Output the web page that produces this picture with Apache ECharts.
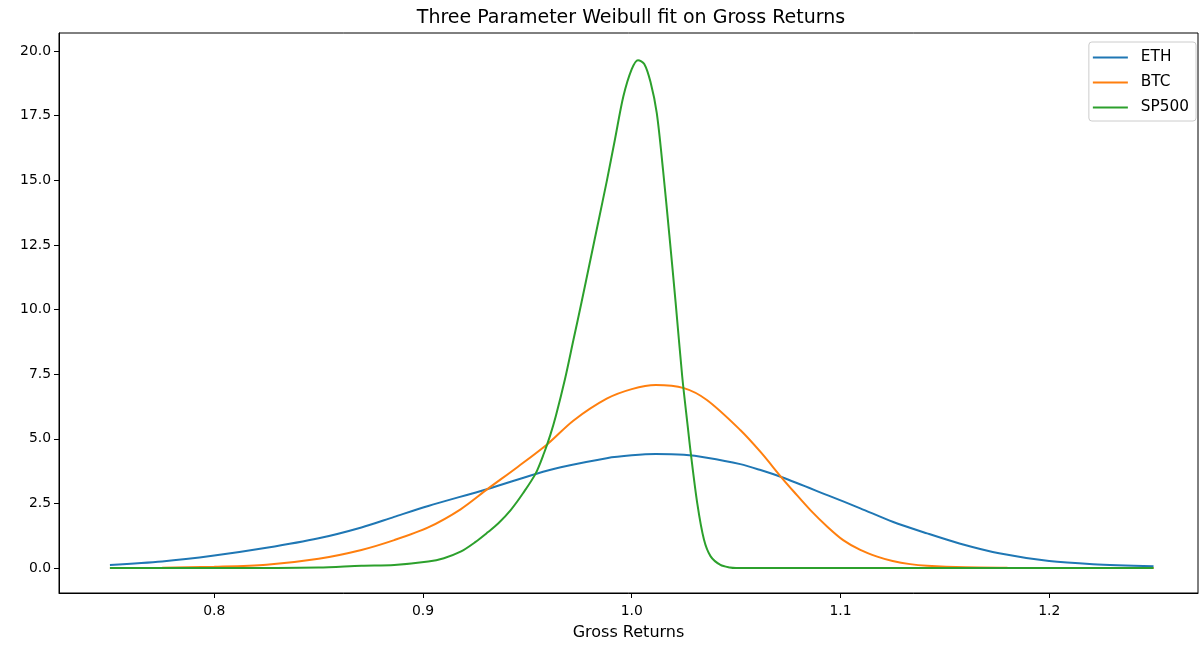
<!DOCTYPE html>
<html>
<head>
<meta charset="utf-8">
<script src="https://cdn.jsdelivr.net/npm/echarts@6/dist/echarts.min.js"></script>
<style>html,body{margin:0;padding:0;background:#fff;}#chart{width:1199px;height:646px;}</style>
</head>
<body>
<div id="chart"></div>
<script>
// ---- data ----
const seriesNames = ['ETH', 'BTC', 'SP500'];
const xTicks = [0.8, 0.9, 1.0, 1.1, 1.2];
const yTicks = [0, 2.5, 5, 7.5, 10, 12.5, 15, 17.5, 20];

const ethX = [0.75, 0.775, 0.8, 0.825, 0.85, 0.8705, 0.8862, 0.9025, 0.931, 0.954, 0.966, 0.988, 1.0, 1.0115, 1.025, 1.036, 1.052, 1.0617, 1.072, 1.0937, 1.1095, 1.125, 1.1415, 1.157, 1.176, 1.2, 1.221, 1.25];
const ethY = [0.12, 0.25, 0.48, 0.78, 1.15, 1.57, 1.98, 2.40, 3.06, 3.64, 3.90, 4.25, 4.36, 4.41, 4.38, 4.27, 4.02, 3.79, 3.51, 2.82, 2.31, 1.79, 1.34, 0.95, 0.57, 0.27, 0.15, 0.07];

const btcX = [0.75, 0.775, 0.8, 0.825, 0.85, 0.8705, 0.8862, 0.9025, 0.918, 0.931, 0.9455, 0.960, 0.972, 0.988, 1.0, 1.0115, 1.025, 1.036, 1.052, 1.0617, 1.072, 1.0777, 1.0856, 1.0937, 1.1013, 1.1095, 1.1176, 1.125, 1.1334, 1.1415, 1.16, 1.18, 1.2, 1.25];
const btcY = [0.0, 0.01, 0.05, 0.13, 0.36, 0.70, 1.08, 1.57, 2.27, 3.06, 3.92, 4.82, 5.70, 6.55, 6.92, 7.08, 6.96, 6.50, 5.34, 4.49, 3.48, 2.95, 2.24, 1.60, 1.08, 0.70, 0.44, 0.27, 0.15, 0.09, 0.03, 0.01, 0.0, 0.0];

const spX = [0.75, 0.8, 0.85, 0.8705, 0.8862, 0.9025, 0.91, 0.918, 0.925, 0.931, 0.936, 0.942, 0.948, 0.954, 0.958, 0.961, 0.9637, 0.968, 0.972, 0.976, 0.980, 0.984, 0.988, 0.992, 0.996, 1.0, 1.003, 1.006, 1.009, 1.012, 1.015, 1.018, 1.021, 1.0242, 1.0268, 1.0282, 1.0314, 1.0346, 1.0378, 1.0425, 1.047, 1.05, 1.1, 1.15, 1.2, 1.25];
const spY = [0.0, 0.0, 0.02, 0.09, 0.12, 0.25, 0.38, 0.63, 1.0, 1.38, 1.72, 2.24, 2.90, 3.66, 4.45, 5.15, 5.90, 7.30, 8.80, 10.30, 11.85, 13.40, 14.95, 16.60, 18.25, 19.30, 19.65, 19.50, 18.80, 17.60, 15.40, 12.90, 10.30, 7.40, 5.50, 4.50, 2.50, 1.10, 0.45, 0.12, 0.02, 0.0, 0.0, 0.0, 0.0, 0.0];

const colors = ['#1f77b4', '#ff7f0e', '#2ca02c'];
const xs = [ethX, btcX, spX];
const ys = [ethY, btcY, spY];

const font = 'DejaVu Sans';
const chart = echarts.init(document.getElementById('chart'), null, {renderer: 'canvas'});

const series = seriesNames.map((name, i) => ({
  name: name,
  type: 'line',
  data: xs[i].map((x, j) => [x, ys[i][j]]),
  smooth: 0.3,
  symbol: 'none',
  showSymbol: false,
  lineStyle: {color: colors[i], width: 2},
  itemStyle: {color: colors[i]},
  emphasis: {disabled: true},
  animation: false
}));

chart.setOption({
  backgroundColor: '#fff',
  animation: false,
  textStyle: {fontFamily: font},
  graphic: [{
    type: 'text',
    x: 631,
    y: 18,
    style: {
      text: 'Three Parameter Weibull fit on Gross Returns',
      fill: '#000',
      font: '19px "DejaVu Sans"',
      textAlign: 'center',
      textVerticalAlign: 'middle'
    }
  }],
  legend: {
    data: seriesNames,
    orient: 'vertical',
    right: 3,
    top: 42,
    icon: 'rect',
    itemWidth: 35,
    itemHeight: 2,
    itemGap: 10,
    padding: [8, 7, 6, 4],
    borderColor: '#cccccc',
    borderWidth: 1,
    borderRadius: 3,
    backgroundColor: 'rgba(255,255,255,0.8)',
    textStyle: {fontFamily: font, fontSize: 15.3, color: '#000', padding: [0, 0, 0, 8]},
    selectedMode: false
  },
  grid: {
    left: 59, right: 1, top: 33, bottom: 53,
    show: true, borderColor: '#000', borderWidth: 1,
    containLabel: false
  },
  xAxis: {
    type: 'value',
    min: 0.7256,
    max: 1.2713,
    name: 'Gross Returns',
    nameLocation: 'middle',
    nameGap: 32,
    nameTextStyle: {fontFamily: font, fontSize: 16, color: '#000'},
    splitLine: {show: false},
    axisLine: {show: true, onZero: false, lineStyle: {color: '#000', width: 1}},
    axisTick: {show: true, inside: false, length: 5, lineStyle: {color: '#000'}, customValues: xTicks},
    axisLabel: {fontFamily: font, fontSize: 13.9, color: '#000', margin: 11, customValues: xTicks,
      formatter: v => v.toFixed(1)}
  },
  yAxis: {
    type: 'value',
    min: -0.967,
    max: 20.70,
    splitLine: {show: false},
    axisLine: {show: true, onZero: false, lineStyle: {color: '#000', width: 1}},
    axisTick: {show: true, inside: false, length: 5, lineStyle: {color: '#000'}, customValues: yTicks},
    axisLabel: {fontFamily: font, fontSize: 13.9, color: '#000', margin: 8, customValues: yTicks,
      formatter: v => v.toFixed(1)}
  },
  series: series
});
</script>
</body>
</html>
